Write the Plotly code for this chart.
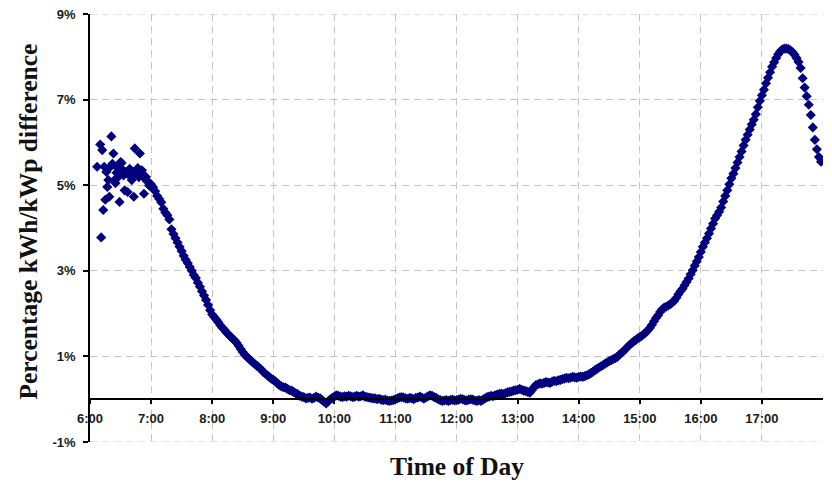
import pandas as pd
import plotly.graph_objects as go

# ---- data ----
early_times = ["06:07", "06:10", "06:11", "06:12", "06:13", "06:14", "06:15", "06:16", "06:17",
               "06:18", "06:19", "06:20", "06:21", "06:22", "06:23", "06:24", "06:25", "06:26",
               "06:27", "06:28", "06:29", "06:30", "06:31", "06:32", "06:33", "06:34", "06:35",
               "06:36", "06:37", "06:38", "06:39", "06:40", "06:41", "06:42", "06:43", "06:44",
               "06:45", "06:46", "06:47", "06:48", "06:49", "06:50", "06:51", "06:52", "06:53",
               "06:54", "06:55", "06:56", "06:57", "06:58", "06:59"]
early_vals = [5.43, 5.95, 3.78, 5.82, 4.42, 5.43, 4.66, 5.31, 4.96,
              5.12, 4.73, 5.43, 6.14, 5.50, 5.74, 5.12, 5.05, 5.29,
              5.40, 5.20, 4.61, 5.54, 5.52, 5.36, 5.23, 4.88, 5.30,
              5.31, 4.84, 5.25, 5.38, 5.20, 5.12, 5.31, 4.73, 5.86,
              5.28, 5.35, 5.40, 5.19, 5.74, 5.30, 5.35, 5.25, 4.80,
              5.15, 5.19, 5.10, 5.08, 5.00, 4.98]

# two-minute readings from 07:00 to 17:58, one row per hour
vals_07 = [5.02, 4.95, 4.86, 4.75, 4.68, 4.60, 4.45, 4.36, 4.30, 4.20, 3.97, 3.86, 3.76, 3.66, 3.56,
           3.46, 3.35, 3.26, 3.18, 3.09, 3.00, 2.90, 2.83, 2.72, 2.63, 2.52, 2.42, 2.32, 2.20, 2.08]
vals_08 = [1.98, 1.92, 1.86, 1.80, 1.73, 1.67, 1.62, 1.56, 1.51, 1.46, 1.42, 1.37, 1.32, 1.25, 1.17,
           1.10, 1.04, 0.99, 0.95, 0.90, 0.86, 0.82, 0.78, 0.74, 0.70, 0.64, 0.60, 0.56, 0.52, 0.48]
vals_09 = [0.45, 0.42, 0.37, 0.33, 0.30, 0.28, 0.27, 0.24, 0.21, 0.20, 0.17, 0.14, 0.12, 0.08, 0.06,
           0.05, 0.02, 0.03, 0.04, 0.01, 0.03, 0.06, 0.04, 0.02, -0.02, -0.06, -0.10, -0.05, 0.00, 0.03]
vals_10 = [0.06, 0.09, 0.08, 0.06, 0.05, 0.07, 0.06, 0.08, 0.07, 0.05, 0.06, 0.08, 0.06, 0.07, 0.09,
           0.06, 0.05, 0.04, 0.03, 0.02, 0.02, 0.00, 0.01, -0.01, -0.02, -0.01, -0.03, -0.04, -0.03, -0.02]
vals_11 = [0.00, 0.02, 0.04, 0.05, 0.04, 0.02, 0.01, 0.03, 0.02, 0.00, 0.03, 0.04, 0.06, 0.04, 0.01,
           0.04, 0.07, 0.09, 0.08, 0.05, 0.03, 0.00, -0.02, -0.04, -0.03, -0.02, -0.04, -0.02, -0.01, -0.03]
vals_12 = [-0.02, -0.01, 0.01, 0.00, -0.02, -0.03, -0.01, 0.00, -0.01, -0.03, -0.04, -0.02, -0.04, -0.01, 0.02,
           0.05, 0.06, 0.08, 0.07, 0.09, 0.11, 0.12, 0.13, 0.12, 0.14, 0.16, 0.17, 0.18, 0.20, 0.21]
vals_13 = [0.22, 0.24, 0.22, 0.20, 0.19, 0.17, 0.15, 0.21, 0.28, 0.33, 0.35, 0.37, 0.36, 0.38, 0.40,
           0.39, 0.38, 0.41, 0.43, 0.42, 0.44, 0.45, 0.47, 0.48, 0.50, 0.49, 0.50, 0.52, 0.51, 0.50]
vals_14 = [0.52, 0.53, 0.52, 0.54, 0.56, 0.58, 0.61, 0.64, 0.68, 0.71, 0.74, 0.77, 0.80, 0.83, 0.86,
           0.89, 0.91, 0.94, 0.96, 0.99, 1.04, 1.08, 1.12, 1.17, 1.22, 1.27, 1.31, 1.35, 1.38, 1.42]
vals_15 = [1.45, 1.48, 1.52, 1.56, 1.61, 1.67, 1.74, 1.82, 1.90, 1.96, 2.04, 2.10, 2.14, 2.16, 2.19,
           2.22, 2.26, 2.30, 2.37, 2.45, 2.52, 2.58, 2.66, 2.74, 2.82, 2.92, 3.01, 3.12, 3.22, 3.32]
vals_16 = [3.44, 3.56, 3.66, 3.76, 3.87, 3.99, 4.10, 4.22, 4.30, 4.38, 4.48, 4.62, 4.75, 4.88, 5.02,
           5.16, 5.27, 5.40, 5.53, 5.66, 5.79, 5.93, 6.06, 6.18, 6.30, 6.42, 6.53, 6.66, 6.82, 6.97]
vals_17 = [7.10, 7.23, 7.38, 7.51, 7.64, 7.77, 7.87, 7.97, 8.06, 8.13, 8.17, 8.19, 8.19, 8.18, 8.15,
           8.11, 8.05, 7.97, 7.88, 7.74, 7.50, 7.28, 7.08, 6.88, 6.64, 6.35, 6.06, 5.84, 5.66, 5.55]

hour_ticks = ["06:00", "07:00", "08:00", "09:00", "10:00", "11:00", "12:00",
              "13:00", "14:00", "15:00", "16:00", "17:00"]
y_ticks = [-1, 1, 3, 5, 7, 9]
y_tick_labels = ["-1%", "1%", "3%", "5%", "7%", "9%"]
y_min, y_max = -1, 9

# ---- build ----
DAY = "2000-01-01 "
main_vals = vals_07 + vals_08 + vals_09 + vals_10 + vals_11 + vals_12 + vals_13 + vals_14 + vals_15 + vals_16 + vals_17
main_times = pd.date_range(DAY + "07:00", periods=len(main_vals), freq="2min")
x = list(pd.to_datetime([DAY + t for t in early_times])) + list(main_times)
y = early_vals + main_vals

fig = go.Figure()
fig.add_trace(go.Scatter(
    x=x, y=y, mode="markers",
    marker=dict(symbol="diamond", size=7.8, color="#00007f", line=dict(width=0)),
    hoverinfo="skip", showlegend=False,
))

GRID_COLOR = "#c4c4c4"
GRID_DASH = "7px,5px"
tick_font = dict(family="Liberation Sans, Arial, sans-serif", size=13, color="#1a1a1a", weight="bold")
title_font = dict(family="Liberation Serif, Times New Roman, serif", size=25.5, color="#111111", weight="bold")
grid = dict(showgrid=True, gridcolor=GRID_COLOR, gridwidth=1, griddash=GRID_DASH)

# edge gridlines (plotly skips gridlines that sit on the plot border)
for yv in (y_min, y_max):
    fig.add_shape(type="line", xref="paper", yref="y", x0=0, x1=1, y0=yv, y1=yv,
                  line=dict(color=GRID_COLOR, width=1, dash=GRID_DASH), layer="below")

# the page body adds an 8px offset; figure size/margins compensate for it
fig.update_layout(
    width=824, height=474,
    margin=dict(l=82, r=9, t=6, b=40, pad=0),
    paper_bgcolor="white", plot_bgcolor="white",
    xaxis=dict(
        type="date",
        range=[DAY + "06:00", DAY + "18:00"],
        tickvals=[DAY + t for t in hour_ticks],
        tickformat="%-H:%M",
        showline=True, linecolor="black", linewidth=1.5,
        ticks="outside", ticklen=4, tickcolor="black", tickwidth=1.5,
        anchor="free", position=0.1, automargin=False,
        zeroline=False, tickfont=tick_font, ticklabelstandoff=3,
        ticklabeloverflow="allow",
        **grid,
    ),
    yaxis=dict(
        range=[y_min, y_max],
        tickvals=y_ticks, ticktext=y_tick_labels,
        showline=True, linecolor="black", linewidth=1.5,
        ticks="outside", ticklen=5, tickcolor="black", tickwidth=1.5,
        zeroline=False, tickfont=tick_font, automargin=False,
        ticklabelstandoff=5, ticklabeloverflow="allow",
        **grid,
    ),
    annotations=[
        dict(text="Time of Day", xref="paper", yref="paper", x=0.5, y=-0.0584,
             xanchor="center", yanchor="middle", showarrow=False, font=title_font),
        dict(text="Percentage kWh/kWp difference", xref="paper", yref="paper",
             x=-0.084, y=0.516, xanchor="center", yanchor="middle", textangle=-90,
             showarrow=False, font=title_font),
    ],
)

fig.write_html("out.html")
